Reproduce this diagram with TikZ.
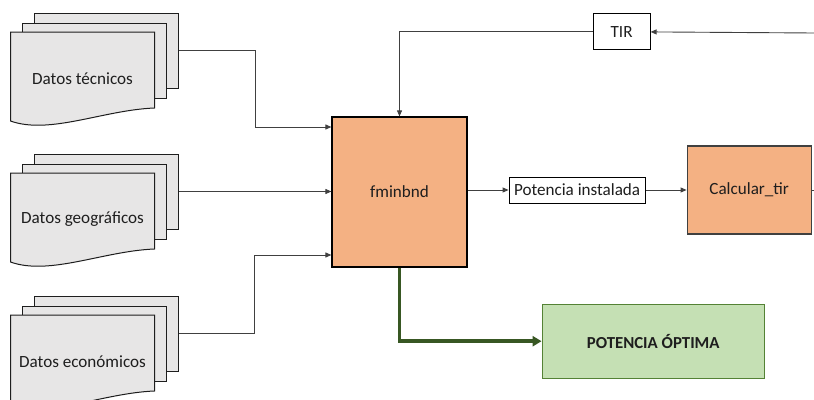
\documentclass[tikz,border=0pt]{standalone}
\usepackage{fontspec}
\setmainfont{Carlito}
\usetikzlibrary{arrows.meta,positioning}
\definecolor{naranja}{HTML}{F4B183}
\definecolor{verde}{HTML}{C5E0B4}
\definecolor{verdeborde}{HTML}{548235}
\definecolor{verdeoscuro}{HTML}{385723}
\definecolor{gris}{HTML}{E7E6E6}
\definecolor{grislinea}{HTML}{404040}
\definecolor{texto}{HTML}{1E1E1E}

\begin{document}
\begin{tikzpicture}[x=1pt,y=-1pt,>={Triangle[length=6pt,width=5pt]},node distance=41pt,
	every node/.style={font=\fontsize{17.1pt}{20pt}\selectfont, text=texto},
	hoja/.style={draw=texto, fill=gris, line width=1pt, minimum width=144pt, minimum height=75pt},
	proceso/.style={draw=black, fill=naranja, line width=1.2pt},
	dato/.style={draw=black, fill=white, line width=1pt, inner sep=2pt},
	resultado/.style={draw=verdeborde, fill=verde, line width=1.2pt, font=\fontsize{16.8pt}{20pt}\selectfont\bfseries},
	linea/.style={->, draw=grislinea, line width=.9pt},
	salida/.style={->, draw=verdeoscuro, line width=3.5pt, >={Triangle[length=9pt,width=10pt]}}]
			\useasboundingbox (0,0) rectangle (814,399);
			
			% hojas de datos
			\node[hoja] (tec) at (106,50.5) {};
			\node[hoja] (tec2) at ([shift={(-11.5,10)}]tec) {};
			\draw[hoja] ([shift={(-11.5,9.5)}]tec2.north west) coordinate (tec1) -- ++(144,0) -- ++(0,76) .. controls +(-51,2) and +(39,14) .. ([shift={(0,89)}]tec1) -- cycle;
			\node (tect) at ([shift={(72,46.5)}]tec1) {Datos técnicos};
			
			\node[hoja] (geo) [below=65pt of tec] {};
			\node[hoja] (geo2) at ([shift={(-11.5,10)}]geo) {};
			\draw[hoja] ([shift={(-11.5,9.5)}]geo2.north west) coordinate (geo1) -- ++(144,0) -- ++(0,76) .. controls +(-51,2) and +(39,14) .. ([shift={(0,89)}]geo1) -- cycle;
			\node (geot) at ([shift={(72,46.5)}]geo1) {Datos geográficos};
			
			\node[hoja] (eco) [below=66pt of geo] {};
			\node[hoja] (eco2) at ([shift={(-11.5,10)}]eco) {};
			\draw[hoja] ([shift={(-11.5,9.5)}]eco2.north west) coordinate (eco1) -- ++(144,0) -- ++(0,76) .. controls +(-51,2) and +(39,14) .. ([shift={(0,89)}]eco1) -- cycle;
			\node (ecot) at ([shift={(72,46.5)}]eco1) {Datos económicos};
			
			% bloques
			\node[proceso, minimum width=135pt, minimum height=150pt] (fmin) at (399.5,192) {fminbnd};
			\node[dato, minimum width=136pt, minimum height=26pt] (pot) [right=of fmin, yshift=2pt] {Potencia instalada};
			\node[proceso, draw=grislinea, minimum width=124pt, minimum height=88pt] (calc) [right=of pot] {Calcular\_tir};
			\node[dato, minimum width=57pt, minimum height=36pt] (tir) [above right=66pt and 125pt of fmin] {TIR};
			\node[resultado, minimum width=222pt, minimum height=74pt] (opt) [below right=36pt and 74pt of fmin] {POTENCIA ÓPTIMA};
			\coordinate (borde) at (814,33);
			
			\draw[linea] (tec.east) -- ++(77,0) |- ([yshift=65pt]fmin.west);
			\draw[linea] (geo.east) -- (geo.east -| fmin.west);
			\draw[linea] (eco.east) -- ++(76,0) |- ([yshift=-63pt]fmin.west);
			
			\draw[linea] (borde) -- (tir.east);
			\draw[linea] (tir.west) -| (fmin.north);
			\draw[linea] (pot.west -| fmin.east) -- (pot.west);
			\draw[linea] (pot.east) -- (calc.west);
			\draw[linea, -] (calc.east) -- (calc.east -| borde);
			\draw[salida] (fmin.south) |- (opt.west);
			
\end{tikzpicture}
\end{document}
